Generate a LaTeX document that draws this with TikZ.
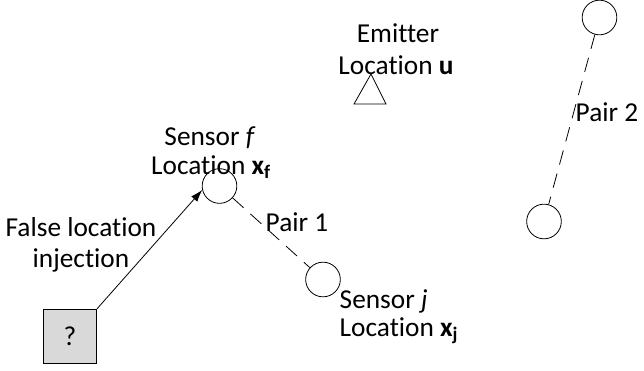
\documentclass[tikz,border=0pt]{standalone}
\usepackage{fontspec}
\setmainfont[Ligatures=NoCommon]{Carlito}
\usetikzlibrary{arrows.meta}

\tikzset{
  every node/.style={font=\fontsize{20.5}{23.5}\selectfont, inner sep=1pt},
  sensor/.style={draw, circle, minimum size=26pt, inner sep=0pt},
  attacker/.style={draw, fill=black!15, minimum width=40pt, minimum height=41pt, inner sep=0pt},
  pairline/.style={dash pattern=on 11pt off 7pt},
}

\begin{document}
\begin{tikzpicture}[x=0.75pt, y=-0.75pt, line width=0.6pt]
  \useasboundingbox (0,0) rectangle (644,371);
  \node[sensor] (f) at (219.5,186) {};
  \node[sensor] (j) at (323,279.5) {};
  \node[sensor] (p) at (599.5,17.5) {};
  \node[sensor] (q) at (544,221.5) {};
  \node[attacker] (a) at (70,336.5) {?};
  % emitter
  \draw (354,104) -- (371,74) -- (386,104) -- cycle;
  \node (e1) at (398,33) {Emitter};
  \node (e2) at (396,65) {Location \textbf{u}};
  % labels of the sensors
  \node (f1) at (210,138) {Sensor \textit{f}};
  \node (f2) at (211,167) {Location \textbf{x\textsubscript{f}}};
  \node[anchor=west] (j1) at (338,301) {Sensor \textit{j}};
  \node[anchor=west] (j2) at (338,331) {Location \textbf{x\textsubscript{j}}};
  \node[align=center] (inj) at (81,245) {False location\\injection};
  % pairs and injection
  \draw[pairline] (f) -- (j);
  \draw[pairline] (p) -- (q);
  \node[anchor=west] (l1) at (264,222) {Pair 1};
  \node[anchor=west] (l2) at (574,112) {Pair 2};
  \draw[-{Latex[length=9pt,width=6pt]}] (a.north east) -- (f.193);
\end{tikzpicture}
\end{document}
